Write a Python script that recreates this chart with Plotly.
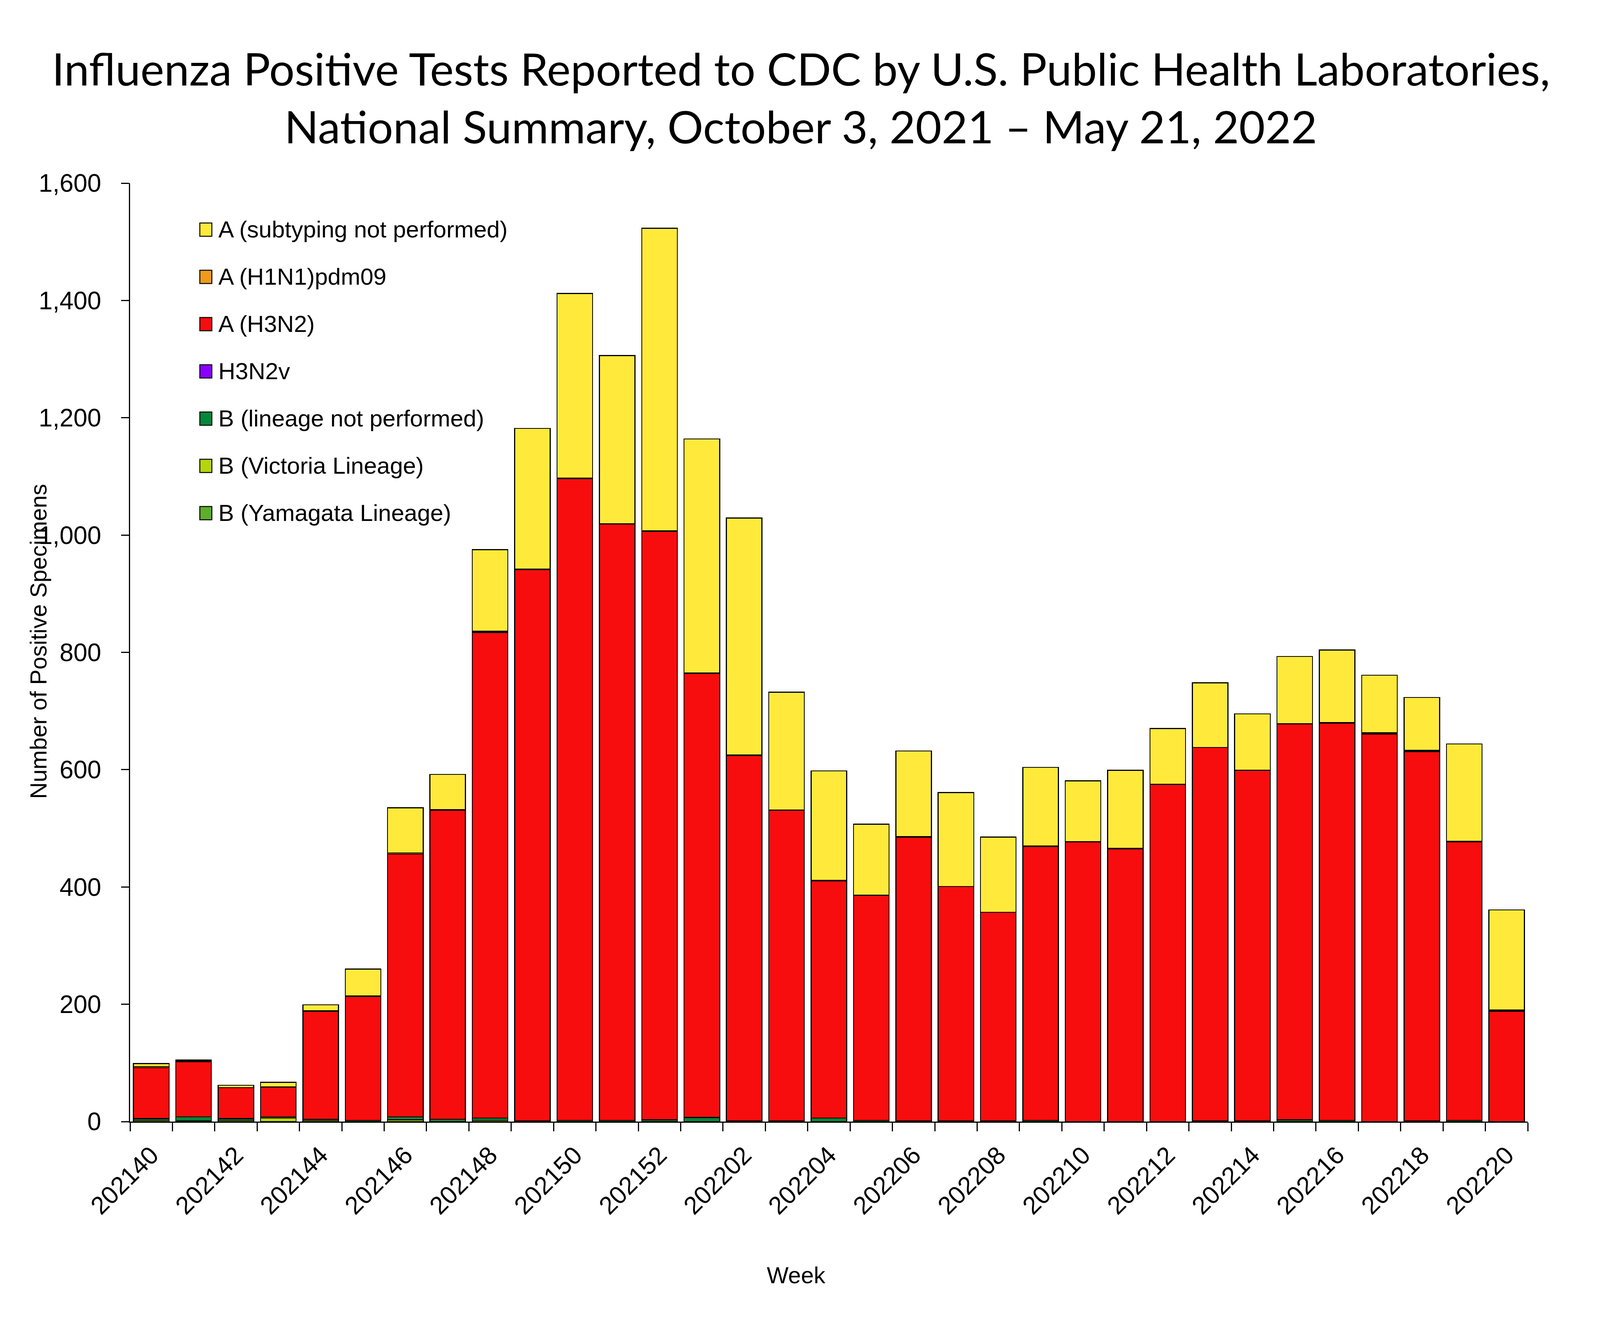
import plotly.graph_objects as go

# weekly counts
weeks = [
    "202140", "202141", "202142", "202143", "202144", "202145", "202146",
    "202147", "202148", "202149", "202150", "202151", "202152",
    "202201", "202202", "202203", "202204", "202205", "202206", "202207",
    "202208", "202209", "202210", "202211", "202212", "202213", "202214",
    "202215", "202216", "202217", "202218", "202219", "202220",
]

b_yamagata = [0] * 33
b_victoria = [2, 1, 2, 6, 2, 0, 3, 0, 2, 0, 0, 0, 0,
              0, 0, 0, 0, 0, 0, 0, 0, 0, 0, 0, 0, 0, 0, 0, 0, 0, 0, 0, 0]
b_not_performed = [3, 7, 3, 2, 2, 2, 5, 4, 4, 1, 2, 2, 3,
                   7, 1, 1, 6, 2, 1, 1, 1, 2, 0, 0, 0, 1, 1, 3, 2, 0, 1, 2, 0]
h3n2v = [0] * 33
a_h3n2 = [87, 94, 53, 51, 184, 211, 448, 527, 828, 940, 1094, 1017, 1003,
          757, 623, 530, 404, 384, 484, 400, 356, 467, 477, 465, 575, 637,
          598, 675, 677, 661, 630, 475, 188]
a_h1n1 = [2, 1, 0, 0, 1, 1, 2, 1, 2, 1, 1, 0, 1,
          1, 1, 0, 1, 0, 1, 0, 0, 1, 0, 1, 0, 0, 0, 0, 1, 2, 2, 1, 2]
a_not_subtyped = [5, 2, 4, 8, 10, 46, 77, 60, 139, 240, 315, 287, 516,
                  399, 404, 201, 187, 121, 146, 160, 128, 134, 104, 133, 95,
                  110, 96, 115, 124, 98, 90, 166, 171]

# legend order (top to bottom), stacking is the reverse
series_names = [
    "A (subtyping not performed)", "A (H1N1)pdm09", "A (H3N2)", "H3N2v",
    "B (lineage not performed)", "B (Victoria Lineage)", "B (Yamagata Lineage)",
]
series_values = [a_not_subtyped, a_h1n1, a_h3n2, h3n2v,
                 b_not_performed, b_victoria, b_yamagata]
series_colors = ["#FFEA3C", "#EE9A1C", "#F70D0D", "#8A00FF",
                 "#00883C", "#B4D60C", "#5DAE2A"]

tick_text = [w if i % 2 == 0 else "" for i, w in enumerate(weeks)]

title_lines = [
    "Influenza Positive Tests Reported to CDC by U.S. Public Health Laboratories,",
    "National Summary, October 3, 2021 \u2013 May 21, 2022",
]

ARIAL = "Liberation Sans, Arial, sans-serif"
TITLE_FONT = "Lato, sans-serif"

fig = go.Figure()
for name, vals, col in reversed(list(zip(series_names, series_values, series_colors))):
    fig.add_trace(go.Bar(
        name=name,
        x=weeks,
        y=vals,
        marker=dict(color=col, line=dict(color="black", width=2.5)),
        showlegend=False,
    ))

# hand-drawn legend so the colour squares are a readable size
shapes = []
annotations = []
row_top = 0.9505
row_step = 0.05035
for i, (name, col) in enumerate(zip(series_names, series_colors)):
    yc = row_top - i * row_step
    shapes.append(dict(
        type="rect", xref="paper", yref="paper",
        x0=0.0499, x1=0.0585, y0=yc - 0.00707, y1=yc + 0.00707,
        fillcolor=col, line=dict(color="black", width=2.5),
    ))
    annotations.append(dict(
        text=name, xref="paper", yref="paper", x=0.0626, y=yc,
        xanchor="left", yanchor="middle", showarrow=False,
        font=dict(family=ARIAL, size=60, color="black"),
    ))

annotations.append(dict(
    text=title_lines[0], xref="paper", yref="paper", x=0.48, y=1.1228,
    xanchor="center", yanchor="middle", showarrow=False,
    font=dict(family=TITLE_FONT, size=115, color="black"),
))
annotations.append(dict(
    text=title_lines[1], xref="paper", yref="paper", x=0.48, y=1.0612,
    xanchor="center", yanchor="middle", showarrow=False,
    font=dict(family=TITLE_FONT, size=115, color="black"),
))
annotations.append(dict(
    text="Number of Positive Specimens", xref="paper", yref="paper",
    x=-0.0654, y=0.512, textangle=-90,
    xanchor="center", yanchor="middle", showarrow=False,
    font=dict(family=ARIAL, size=59, color="black"),
))
annotations.append(dict(
    text="Week", xref="paper", yref="paper", x=0.4765, y=-0.164,
    xanchor="center", yanchor="middle", showarrow=False,
    font=dict(family=ARIAL, size=59, color="black"),
))

# the browser viewport is 4096 px wide, so the figure is sized to fit it
fig.update_layout(
    barmode="stack",
    bargap=0.16,
    width=4096,
    height=3375,
    margin=dict(l=333, r=185, t=469, b=503, autoexpand=False),
    paper_bgcolor="white",
    plot_bgcolor="white",
    shapes=shapes,
    annotations=annotations,
    font=dict(family=ARIAL, color="black"),
)

fig.update_xaxes(
    type="category",
    tickmode="array",
    tickvals=weeks,
    ticktext=tick_text,
    tickson="boundaries",
    ticks="outside",
    ticklen=22,
    tickwidth=3,
    tickcolor="black",
    tickangle=-45,
    ticklabelstandoff=20,
    tickfont=dict(family=ARIAL, size=64, color="black"),
    showline=True,
    linewidth=3,
    linecolor="black",
    showgrid=False,
)
fig.update_yaxes(
    range=[0, 1600],
    dtick=200,
    tickformat=",d",
    ticks="outside",
    ticklen=20,
    tickwidth=3,
    tickcolor="black",
    ticklabelstandoff=38,
    tickfont=dict(family=ARIAL, size=64, color="black"),
    showline=True,
    linewidth=3,
    linecolor="black",
    showgrid=False,
    zeroline=False,
)

# drop the default body margin so the figure sits at the top-left corner
fig.write_html(
    "out.html",
    config={"displayModeBar": False},
    post_script="document.body.style.margin='0';",
)
